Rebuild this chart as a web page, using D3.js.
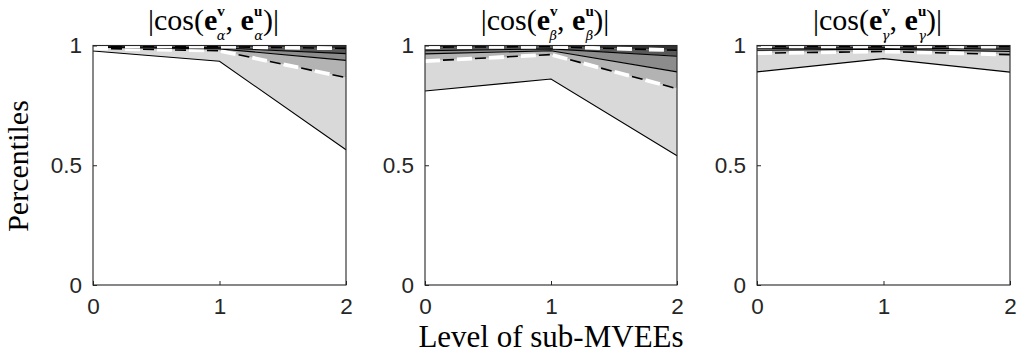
<!DOCTYPE html>
<html><head><meta charset="utf-8">
<script src="https://cdn.jsdelivr.net/npm/d3@7"></script>
<style>body{margin:0;background:#fff}</style>
</head><body>
<svg id="c" width="1019" height="354"></svg>
<script>
// ---- data ----
const levels = [0, 1, 2];
const yTicks = [0, 0.5, 1];
const yTickLabels = ["0", "0.5", "1"];
const xTickLabels = ["0", "1", "2"];
const greekSubs = ["α", "β", "γ"];
// percentile lines per panel (low -> high), values at levels 0,1,2
const alphaLines = [
  [0.977, 0.934, 0.565],
  [0.988, 0.978, 0.866],
  [0.993, 0.986, 0.938],
  [0.996, 0.990, 0.966],
  [0.998, 0.995, 0.988]
];
const betaLines = [
  [0.81, 0.86, 0.54],
  [0.935, 0.962, 0.82],
  [0.965, 0.978, 0.89],
  [0.978, 0.986, 0.955],
  [0.993, 0.995, 0.98]
];
const gammaLines = [
  [0.89, 0.945, 0.889],
  [0.968, 0.975, 0.962],
  [0.98, 0.985, 0.975],
  [0.988, 0.99, 0.985],
  [0.996, 0.997, 0.995]
];
const panelsData = [alphaLines, betaLines, gammaLines];
const bandColors = ["#d9d9d9", "#b3b3b3", "#8c8c8c", "#595959", "#333333"];
const lineStyles = ["solid", "dashed", "solid", "solid", "dashed"];

// ---- layout ----
const svg = d3.select("#c");
const panelX = [[93, 346], [425, 677], [757, 1010]];
const plotTop = 45.5, plotBottom = 285;
const y = d3.scaleLinear().domain([0, 1]).range([plotBottom, plotTop]);
const serif = "Liberation Serif, serif";

panelsData.forEach((lines, pi) => {
  const x = d3.scaleLinear().domain([0, 2]).range(panelX[pi]);
  const g = svg.append("g");
  // bands
  const bounds = lines.concat([levels.map(() => 1)]);
  for (let b = 0; b < bounds.length - 1; b++) {
    const lo = bounds[b], hi = bounds[b + 1];
    const area = d3.area().x((d, i) => x(levels[i])).y0((d, i) => y(lo[i])).y1((d, i) => y(hi[i]));
    g.append("path").datum(levels).attr("d", area).attr("fill", bandColors[b]);
  }
  // lines
  const line = (vals) => d3.line().x((d, i) => x(levels[i])).y((d, i) => y(vals[i]))(levels);
  lines.forEach((vals, li) => {
    if (lineStyles[li] === "solid") {
      g.append("path").attr("d", line(vals)).attr("fill", "none").attr("stroke", "#000").attr("stroke-width", 1.1);
    } else {
      g.append("path").attr("d", line(vals)).attr("fill", "none").attr("stroke", "#000").attr("stroke-width", 1.6)
        .attr("stroke-dasharray", "11,21").attr("stroke-dashoffset", 14);
      g.append("path").attr("d", line(vals)).attr("fill", "none").attr("stroke", "#fff").attr("stroke-width", 3.8).attr("stroke-dasharray", "15,17");
    }
  });
  // axes box
  const xa = d3.axisBottom(x).tickValues(levels).tickSize(-4).tickFormat((d, i) => xTickLabels[i]).tickPadding(13);
  const ya = d3.axisLeft(y).tickValues(yTicks).tickSize(-4).tickFormat((d, i) => yTickLabels[i]).tickPadding(11);
  const gx = g.append("g").attr("transform", `translate(0,${plotBottom})`).call(xa);
  const gy = g.append("g").attr("transform", `translate(${panelX[pi][0]},0)`).call(ya);
  [gx, gy].forEach(a => {
    a.select(".domain").remove();
    a.selectAll("line").attr("stroke", "#262626");
    a.selectAll("text").attr("font-family", "Liberation Sans, Arial, sans-serif").attr("font-size", 22.5).attr("fill", "#262626");
  });
  gx.selectAll("text").attr("dy", "0.71em");
  g.append("rect").attr("x", panelX[pi][0]).attr("y", plotTop).attr("width", panelX[pi][1] - panelX[pi][0]).attr("height", plotBottom - plotTop)
    .attr("fill", "none").attr("stroke", "#262626").attr("stroke-width", 1.1);

  // title
  const cx = (panelX[pi][0] + panelX[pi][1]) / 2 - 6;
  const t = svg.append("text").attr("x", cx).attr("y", 30).attr("text-anchor", "middle")
    .attr("font-family", serif).attr("font-size", 30).attr("fill", "#000");
  t.append("tspan").text("|cos(");
  t.append("tspan").attr("font-weight", "bold").text("e");
  t.append("tspan").attr("font-weight", "bold").attr("font-size", 15).attr("dy", -14).text("v");
  t.append("tspan").attr("font-family", "DejaVu Serif, serif").attr("font-style", "italic").attr("font-size", 13).attr("dx", -8).attr("dy", 24).text(greekSubs[pi]);
  t.append("tspan").attr("dy", -10).text(", ");
  t.append("tspan").attr("font-weight", "bold").text("e");
  t.append("tspan").attr("font-weight", "bold").attr("font-size", 15).attr("dy", -14).text("u");
  t.append("tspan").attr("font-family", "DejaVu Serif, serif").attr("font-style", "italic").attr("font-size", 13).attr("dx", -8).attr("dy", 24).text(greekSubs[pi]);
  t.append("tspan").attr("dy", -10).text(")|");
});

// axis labels
svg.append("text").attr("transform", "translate(28,166) rotate(-90)").attr("text-anchor", "middle")
  .attr("font-family", serif).attr("font-size", 30).text("Percentiles");
svg.append("text").attr("x", 551).attr("y", 347).attr("text-anchor", "middle")
  .attr("font-family", serif).attr("font-size", 31).text("Level of sub-MVEEs");
</script>
</body></html>
